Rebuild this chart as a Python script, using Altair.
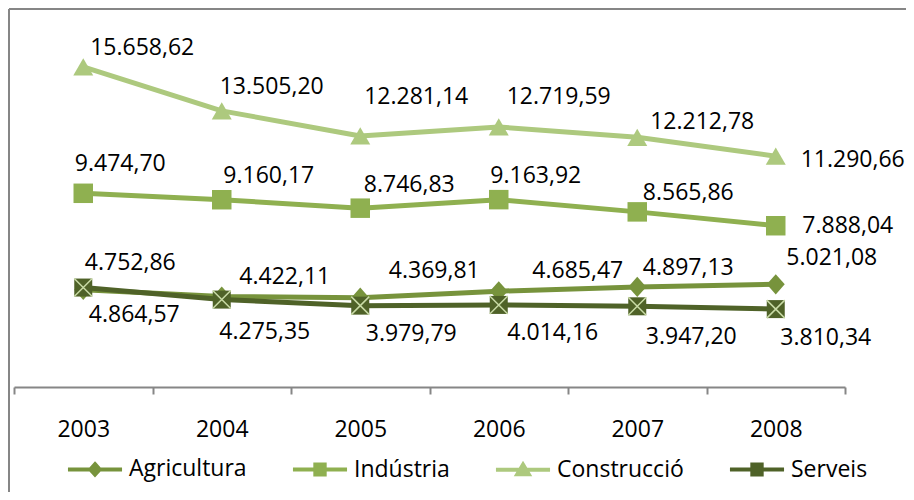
import altair as alt
import pandas as pd

# ---- data ----
years = ["2003", "2004", "2005", "2006", "2007", "2008"]
series_names = ["Agricultura", "Indústria", "Construcció", "Serveis"]
agricultura = [4752.86, 4422.11, 4369.81, 4685.47, 4897.13, 5021.08]
industria = [9474.70, 9160.17, 8746.83, 9163.92, 8565.86, 7888.04]
construccio = [15658.62, 13505.20, 12281.14, 12719.59, 12212.78, 11290.66]
serveis = [4864.57, 4275.35, 3979.79, 4014.16, 3947.20, 3810.34]

# ---- style ----
colors = ["#77933C", "#8FB050", "#ADC97E", "#4F6228"]
x_light = "#C9DBA6"
FONT = "Open Sans"
FS = 23
# data-label offsets (pixels, relative to each point), per series / year
label_dx = [
    [47, 63, 74, 79, 51, 56],
    [37, 47, 49, 37, 51, 72],
    [59, 50, 56, 60, 65, 77],
    [51, 43, 51, 54, 54, 50],
]
label_dy = [
    [-27, -20, -27, -20, -19, -26],
    [-29, -24, -23, -24, -19, 0],
    [-19, -24, -39, -30, -15, 4],
    [27, 32, 28, 28, 31, 29],
]


def fmt(v):
    s = f"{v:,.2f}"
    return s.replace(",", "X").replace(".", ",").replace("X", ".")


values = [agricultura, industria, construccio, serveis]
rows = []
for s, vals in zip(series_names, values):
    for y, v in zip(years, vals):
        rows.append({"series": s, "year": y, "value": v, "label": fmt(v)})
df = pd.DataFrame(rows)

X = alt.X(
    "year:N",
    bandPosition=0.5,
    scale=alt.Scale(type="band", domain=years, paddingInner=0, paddingOuter=0),
    axis=alt.Axis(
        title=None,
        labelAngle=0,
        labelFont=FONT,
        labelFontSize=FS,
        labelColor="black",
        domainColor="#868686",
        domainWidth=2,
        tickColor="#868686",
        tickWidth=2,
        tickSize=7,
        tickBand="extent",
        labelPadding=24,
        grid=False,
    ),
)
Y = alt.Y("value:Q", scale=alt.Scale(domain=[0, 18000], nice=False, zero=True), axis=None)

base = alt.Chart(df)
layers = []

# frame of the chart area
frame = pd.DataFrame({"k": [0]})
layers.append(
    alt.Chart(frame).mark_rule(color="#868686", strokeWidth=2).encode(
        x=alt.value(-5), y=alt.value(-10), y2=alt.value(600)
    )
)
layers.append(
    alt.Chart(frame).mark_rule(color="#868686", strokeWidth=2).encode(
        x=alt.value(-5), x2=alt.value(950), y=alt.value(-10)
    )
)

marker_shapes = [
    "M0,-1.12L1,0L0,1.12L-1,0Z",
    "square",
    "triangle-up",
    "square",
]
marker_sizes = [324, 380, 400, 324]

for i, s in enumerate(series_names):
    sub = base.transform_filter(alt.datum.series == s)
    layers.append(
        sub.mark_line(color=colors[i], strokeWidth=5, strokeJoin="round").encode(x=X, y=Y)
    )
    layers.append(
        sub.mark_point(
            filled=True, shape=marker_shapes[i], size=marker_sizes[i], color=colors[i], opacity=1
        ).encode(x=X, y=Y)
    )
    if s == "Serveis":
        layers.append(
            sub.mark_point(
                shape="M-1,-1L1,1M1,-1L-1,1",
                size=324,
                filled=False,
                stroke=x_light,
                strokeWidth=1.5,
                opacity=1,
            ).encode(x=X, y=Y)
        )

# legend (invisible layer that only carries the legend)
legend_paths = [
    "M-1.04,0H1.04M0,-0.2L0.18,0L0,0.2L-0.18,0Z",
    "M-1.04,0H1.04M-0.18,-0.19H0.18V0.19H-0.18Z",
    "M-1.04,0H1.04M0,-0.2L0.22,0.17H-0.22Z",
    "M-1.04,0H1.04M-0.18,-0.19H0.18V0.19H-0.18Z",
]
leg = alt.Legend(
    title=None,
    orient="none",
    legendX=53,
    legendY=422,
    direction="horizontal",
    labelFont=FONT,
    labelFontSize=FS,
    labelColor="black",
    labelOffset=6,
    columnPadding=37,
    symbolSize=2704,
    symbolStrokeWidth=4,
    symbolOpacity=1,
    padding=0,
)
layers.append(
    base.mark_point(filled=True, opacity=0, size=2704).encode(
        x=X,
        y=Y,
        fill=alt.Fill("series:N", scale=alt.Scale(domain=series_names, range=colors), legend=leg, sort=series_names),
        stroke=alt.Stroke("series:N", scale=alt.Scale(domain=series_names, range=colors), legend=leg, sort=series_names),
        shape=alt.Shape("series:N", scale=alt.Scale(domain=series_names, range=legend_paths), legend=leg, sort=series_names),
    )
)

# data labels
for i, s in enumerate(series_names):
    for j, yr in enumerate(years):
        layers.append(
            base.transform_filter((alt.datum.series == s) & (alt.datum.year == yr))
            .mark_text(
                font=FONT,
                fontSize=FS,
                color="black",
                align="center",
                baseline="middle",
                dx=label_dx[i][j],
                dy=label_dy[i][j],
            )
            .encode(x=X, y=Y, text="label:N")
        )

chart = (
    alt.layer(*layers)
    .properties(
        width=831,
        height=368,
        padding={"left": 6, "top": 11, "right": 61, "bottom": 105},
        autosize=alt.AutoSizeParams(type="none"),
    )
    .configure_view(stroke=None)
)

chart.save("out.html", embed_options={"renderer": "svg", "actions": False})
